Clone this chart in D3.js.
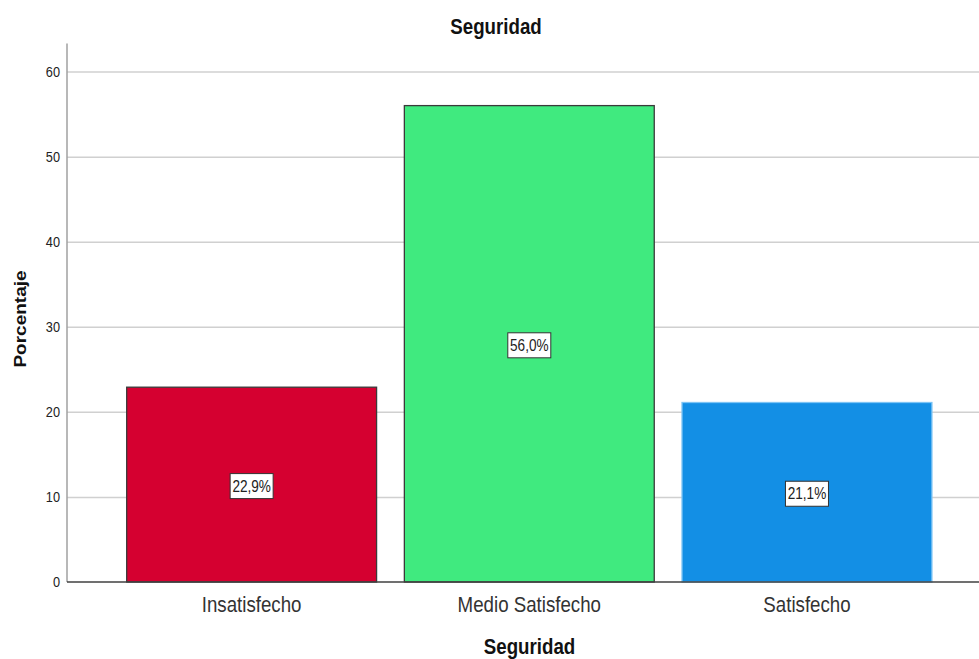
<!DOCTYPE html>
<html><head><meta charset="utf-8">
<script src="https://cdn.jsdelivr.net/npm/d3@7"></script>
<style>
html,body{margin:0;padding:0;background:#fff;}
svg text{font-family:"Liberation Sans",Arial,sans-serif;}
</style></head>
<body>
<svg id="chart" width="979" height="659"></svg>
<script>
const categories = ["Insatisfecho", "Medio Satisfecho", "Satisfecho"];
const values = [22.9, 56.0, 21.1];
const valueLabels = ["22,9%", "56,0%", "21,1%"];
const yTicks = [0, 10, 20, 30, 40, 50, 60];
const colors = ["#d50030", "#40ea7f", "#138fe5"];
const strokes = ["#3a3a3a", "#3a3a3a", "#7cc4f5"];
const chartTitle = "Seguridad";
const xTitle = "Seguridad";
const yTitle = "Porcentaje";

(function () {
const sx = 0.85; // horizontal text compression of the reference
const mLeft = 67, mRight = 979, mTop = 43.5, mBottom = 582;

const svg = d3.select("#chart");

const x = d3.scaleBand().domain(categories).range([112.8, 945.8]).paddingInner(0.1).paddingOuter(0.05);
const y = d3.scaleLinear().domain([0, 63.3]).range([mBottom, mTop]);

function txt(g, xPos, yPos, s, size, weight, anchor, fill, rot) {
  return g.append("text")
    .attr("transform", `translate(${xPos},${yPos}) scale(${sx},1)` + (rot ? ` rotate(${rot})` : ""))
    .attr("font-size", size).attr("font-weight", weight || "normal")
    .attr("text-anchor", anchor || "middle").attr("fill", fill || "#000")
    .text(s);
}

// gridlines
const grid = svg.append("g").attr("transform", `translate(${mLeft},0)`)
  .call(d3.axisLeft(y).tickValues(yTicks.filter(d => d > 0)).tickSize(-(mRight - mLeft)).tickFormat(""));
grid.select(".domain").remove();
grid.selectAll(".tick line").attr("stroke", "#d0d0d0").attr("stroke-width", 1.5);

// tick labels
yTicks.forEach(t => {
  txt(svg, 60, y(t) + 5, String(t), 15, "normal", "end", "#222");
});

// bars
svg.selectAll("rect.bar").data(categories).join("rect")
  .attr("class", "bar")
  .attr("x", d => x(d)).attr("width", x.bandwidth())
  .attr("y", (d, i) => y(values[i])).attr("height", (d, i) => y(0) - y(values[i]))
  .attr("fill", (d, i) => colors[i])
  .attr("stroke", (d, i) => strokes[i]).attr("stroke-width", 1.3);

// y axis line
svg.append("line").attr("x1", mLeft).attr("x2", mLeft).attr("y1", mTop).attr("y2", mBottom)
  .attr("stroke", "#a0a0a0").attr("stroke-width", 1.5);
// baseline
svg.append("line").attr("x1", mLeft).attr("x2", mRight).attr("y1", y(0)).attr("y2", y(0))
  .attr("stroke", "#404040").attr("stroke-width", 1.5);

// value labels
categories.forEach((c, i) => {
  const cx = x(c) + x.bandwidth() / 2;
  const cy = (y(0) + y(values[i])) / 2 + 1.5;
  const g = svg.append("g");
  const bw = 43, bh = 25;
  g.append("rect").attr("x", cx - bw / 2).attr("y", cy - bh / 2).attr("width", bw).attr("height", bh)
    .attr("fill", "#fff").attr("stroke", "#333").attr("stroke-width", 1);
  txt(g, cx, cy + 5.5, valueLabels[i], 16, "normal", "middle", "#222");
});

// category labels
categories.forEach(c => {
  txt(svg, x(c) + x.bandwidth() / 2, 612, c, 22, "normal", "middle", "#333");
});

// titles
txt(svg, 496, 34, chartTitle, 22, "bold", "middle", "#111");
txt(svg, 529.5, 654, xTitle, 22, "bold", "middle", "#111");
txt(svg, 26, 319, yTitle, 19, "bold", "middle", "#111", -90);
})();
</script>
</body></html>
